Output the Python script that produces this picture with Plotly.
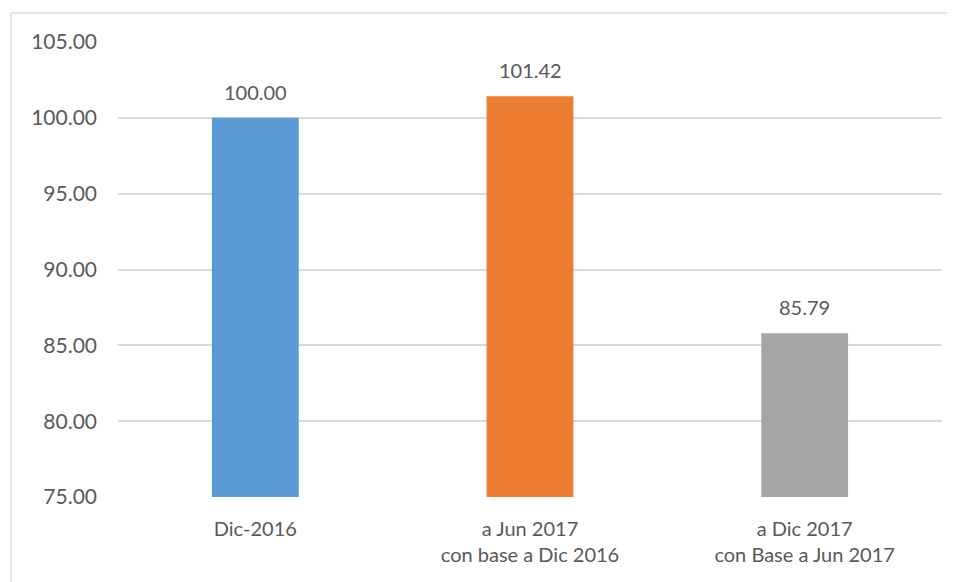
import plotly.graph_objects as go

categories = ["Dic-2016", "a Jun 2017<br>con base a Dic 2016", "a Dic 2017<br>con Base a Jun 2017"]
values = [100.00, 101.42, 85.79]
colors = ["#5B9BD5", "#ED7D31", "#A5A5A5"]
tick_vals = [75, 80, 85, 90, 95, 100, 105]
tick_text = ["75.00", "80.00", "85.00", "90.00", "95.00", "100.00", "105.00"]

FONT = "Lato, Open Sans, sans-serif"
TXT = "#595959"
OFF = 8  # page body margin

fig = go.Figure()
fig.add_trace(go.Bar(
    x=categories, y=values, marker=dict(color=colors, line=dict(width=0)),
    width=0.316,
))

for c, v in zip(categories, values):
    fig.add_annotation(x=c, y=v, text=f"{v:.2f}", showarrow=False,
                       yanchor="bottom", yshift=12,
                       font=dict(family=FONT, size=20, color=TXT))

W, H = 955 - OFF, 582 - OFF
L, R, T, B = 118 - OFF, 13, 42 - OFF, 85
pw, ph = W - L - R, H - T - B
# chart border (left and top edges)
bx = (11 - OFF - L) / pw
by = (H - B - (13 - OFF)) / ph
fig.add_shape(type="line", xref="paper", yref="paper", x0=bx, x1=bx, y0=-0.3, y1=by,
              line=dict(color="#D9D9D9", width=1.5))
fig.add_shape(type="line", xref="paper", yref="paper", x0=bx, x1=1.1, y0=by, y1=by,
              line=dict(color="#D9D9D9", width=1.5))

fig.update_layout(
    width=W, height=H,
    margin=dict(l=L, r=R, t=T, b=B),
    paper_bgcolor="white", plot_bgcolor="white",
    showlegend=False, bargap=0.684,
    font=dict(family=FONT, size=20, color=TXT),
    xaxis=dict(showgrid=False, showline=False, ticks="", ticklabelstandoff=18,
               tickfont=dict(size=20, color=TXT)),
    yaxis=dict(range=[75, 105], tickvals=tick_vals, ticktext=tick_text,
               showgrid=True, gridcolor="#D9D9D9", gridwidth=1.5,
               zeroline=False, showline=False, ticks="",
               ticklabelstandoff=20, tickfont=dict(size=21, color=TXT)),
)
fig.write_html("out.html")
